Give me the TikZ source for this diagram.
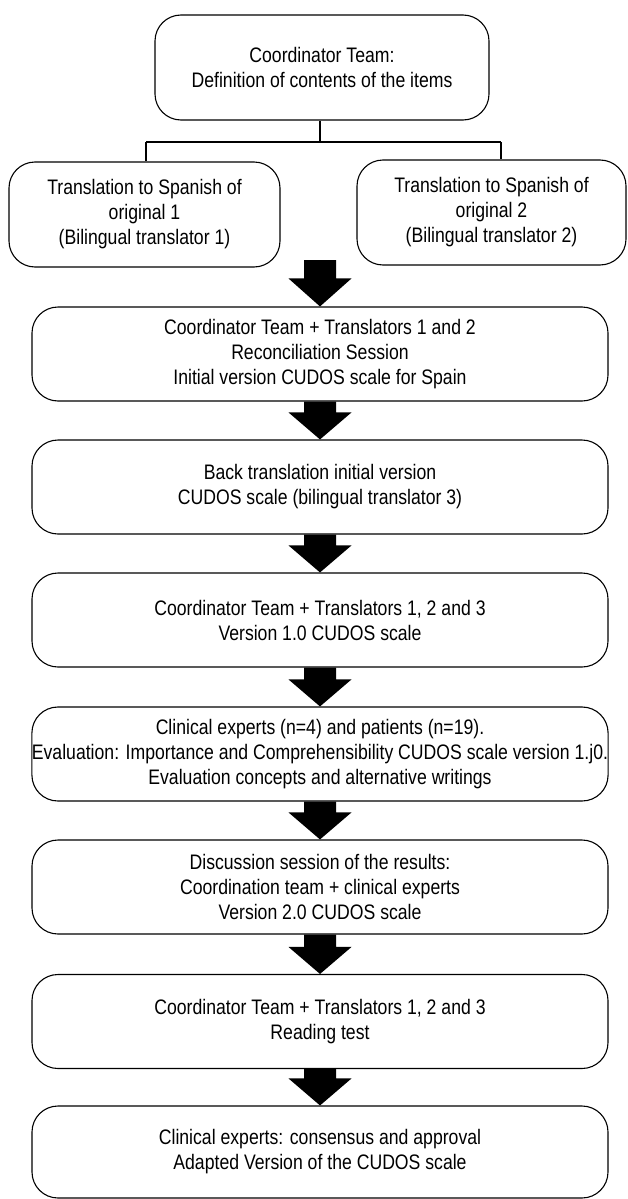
\documentclass[tikz,border=0pt]{standalone}
\usepackage{fontspec}
\setmainfont[FakeStretch=0.84]{Liberation Sans}
\usetikzlibrary{calc}
\tikzset{
  box/.style={draw=black, line width=1.1pt, rounded corners=26pt, align=center,
    inner sep=0pt, font=\fontsize{21}{25}\selectfont},
  wide/.style={box, minimum width=576pt, minimum height=94pt},
  conn/.style={draw=black, line width=1.1pt},
}
\newcommand{\blkarrow}[3]{%
  \fill[black] let \p1=(#1), \p2=(#2) in
    (\x1-16pt,\y1) -- (\x1+16pt,\y1) -- (\x1+16pt,\y2+#3pt) -- (\x1+31.5pt,\y2+#3pt)
    -- (\x2,\y2) -- (\x1-31.5pt,\y2+#3pt) -- (\x1-16pt,\y2+#3pt) -- cycle;}
\begin{document}
\begin{tikzpicture}[x=1pt,y=-1pt]
\useasboundingbox (0,0) rectangle (627,1199);
\node[box, minimum width=334pt, minimum height=105pt] (top) at (322,67.5)
  {Coordinator Team:\\Definition of contents of the items};
\node[box, minimum width=271pt, minimum height=105pt] (left) at (144.5,214.5)
  {Translation to Spanish of\\original 1\\(Bilingual translator 1)};
\node[box, minimum width=269pt, minimum height=105pt] (right) at (491.5,212.5)
  {Translation to Spanish of\\original 2\\(Bilingual translator 2)};
\node[wide] (b3) at (320,354)
  {Coordinator Team + Translators 1 and 2\\Reconciliation Session\\Initial version CUDOS scale for Spain};
\node[wide] (b4) at (320,487)
  {Back translation initial version\\CUDOS scale (bilingual translator 3)};
\node[wide] (b5) at (320,620)
  {Coordinator Team + Translators 1, 2 and 3\\Version 1.0 CUDOS scale};
\node[wide] (b6) at (320,754)
  {Clinical experts (n=4) and patients (n=19).\\Evaluation: Importance and Comprehensibility CUDOS scale version 1.j0.\\Evaluation concepts and alternative writings};
\node[wide] (b7) at (320,887)
  {Discussion session of the results:\\Coordination team + clinical experts\\Version 2.0 CUDOS scale};
\node[wide] (b8) at (320,1021.5)
  {Coordinator Team + Translators 1, 2 and 3\\Reading test};
\node[wide, minimum height=92pt] (b9) at (320,1152)
  {Clinical experts: consensus and approval\\Adapted Version of the CUDOS scale};
% tree connector
\coordinate (j) at (320,142);
\coordinate (jl) at (146,142);
\coordinate (jr) at (501,142);
\draw[conn] (j |- top.south) -- (j);
\draw[conn] (jl) -- (jr);
\draw[conn] (jl) -- (jl |- left.north);
\draw[conn] (jr) -- (jr |- right.north);
% block arrows
\coordinate (a1) at (320,260);
\blkarrow{a1}{b3.north}{28}
\blkarrow{b3.south}{b4.north}{27}
\blkarrow{b4.south}{b5.north}{27}
\blkarrow{b5.south}{b6.north}{27}
\blkarrow{b6.south}{b7.north}{27}
\blkarrow{b7.south}{b8.north}{27}
\blkarrow{b8.south}{b9.north}{27}
\end{tikzpicture}
\end{document}
